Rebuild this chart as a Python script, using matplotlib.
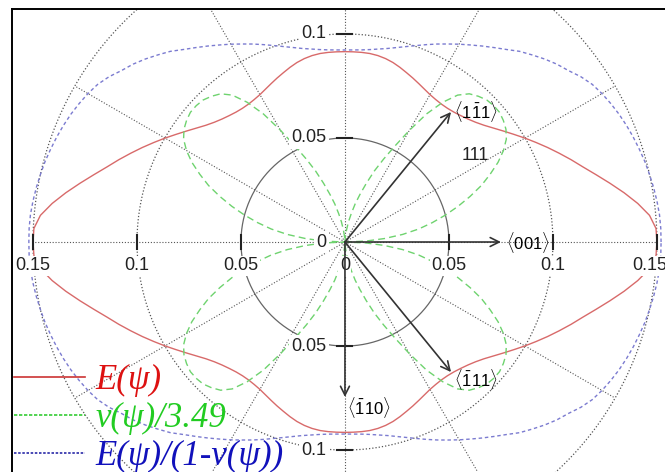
import numpy as np
import matplotlib.pyplot as plt
from matplotlib.lines import Line2D

plt.rcParams['font.family'] = ['Liberation Sans', 'DejaVu Sans']
plt.rcParams['mathtext.fontset'] = 'custom'
plt.rcParams['mathtext.rm'] = 'Liberation Sans'

# angle psi (deg) from <001>, first quadrant; the other quadrants are mirror images
psi = [0, 2.5, 5, 7.5, 10, 12.5, 15, 17.5, 20, 22.5, 25, 27.5, 30, 32.5, 35, 37.5, 40, 42.5,
       45, 47.5, 50, 52.5, 55, 57.5, 60, 62.5, 65, 67.5, 70, 72.5, 75, 77.5, 80, 82.5, 85,
       87.5, 90]
E_psi = [0.1500, 0.1497, 0.1470, 0.1420, 0.1363, 0.1305, 0.1250, 0.1200, 0.1157, 0.1115,
         0.1075, 0.1036, 0.0999, 0.0963, 0.0930, 0.0900, 0.0873, 0.0852, 0.0836, 0.0824,
         0.0815, 0.0810, 0.0809, 0.0812, 0.0818, 0.0828, 0.0840, 0.0853, 0.0866, 0.0880,
         0.0893, 0.0903, 0.0910, 0.0914, 0.0915, 0.0915, 0.0915]
nu_psi = [0.0, 0.010, 0.019, 0.028, 0.036, 0.043, 0.050, 0.057, 0.064, 0.071,
          0.077, 0.083, 0.088, 0.092, 0.0945, 0.096, 0.097, 0.097, 0.0965, 0.095,
          0.093, 0.089, 0.082, 0.073, 0.062, 0.052, 0.044, 0.037, 0.030, 0.024,
          0.019, 0.014, 0.010, 0.006, 0.003, 0.001, 0.0]
Eb_psi = [0.1520, 0.1520, 0.1518, 0.1513, 0.1507, 0.1500, 0.1493, 0.1484, 0.1475, 0.1465,
          0.1454, 0.1441, 0.1427, 0.1410, 0.1385, 0.1354, 0.1330, 0.1302, 0.1272, 0.1243,
          0.1208, 0.1178, 0.1150, 0.1123, 0.1098, 0.1073, 0.1050, 0.1027, 0.1005, 0.0985,
          0.0968, 0.0953, 0.0942, 0.0933, 0.0927, 0.0924, 0.0923]

labels = ['E(\u03c8)', '\u03bd(\u03c8)/3.49', 'E(\u03c8)/(1-\u03bd(\u03c8))']

xticks = [-0.15, -0.1, -0.05, 0, 0.05, 0.1, 0.15]
xticklabels = ['0.15', '0.1', '0.05', '0', '0.05', '0.1', '0.15']
yticks = [0.1, 0.05, 0, -0.05, -0.1]
yticklabels = ['0.1', '0.05', '0', '0.05', '0.1']


def full_circle(a, r):
    a = np.array(a, dtype=float)
    r = np.array(r, dtype=float)
    ang = np.concatenate([a, 180 - a[::-1][1:], 180 + a[1:], 360 - a[::-1][1:]])
    rr = np.concatenate([r, r[::-1][1:], r[1:], r[::-1][1:]])
    t = np.radians(ang)
    return rr * np.cos(t), rr * np.sin(t)


fig = plt.figure(figsize=(6.65, 4.72), dpi=100)
ax = fig.add_axes([12 / 665, -18 / 472, 668 / 665, 481 / 472])
ax.set_xlim(-0.1601, 0.1611)
ax.set_ylim(-0.1192, 0.1120)
ax.set_xticks([])
ax.set_yticks([])
for s in ax.spines.values():
    s.set_linewidth(1.4)

dot = (0, (1, 1.6))
gc = '#555555'
t = np.linspace(0, 2 * np.pi, 500)
ax.plot(0.05 * np.cos(t), 0.05 * np.sin(t), color='#666666', lw=0.9, zorder=1)
for r in [0.1, 0.15]:
    ax.plot(r * np.cos(t), r * np.sin(t), color=gc, lw=0.9, ls=dot, zorder=1)
for a in range(0, 360, 30):
    ax.plot([0, 0.15 * np.cos(np.radians(a))], [0, 0.15 * np.sin(np.radians(a))],
            color=gc, lw=0.8, ls=dot, zorder=1)

# curves
x, y = full_circle(psi, E_psi)
ax.plot(x, y, color='#d86a6a', lw=1.0, zorder=3)
x, y = full_circle(psi, nu_psi)
ax.plot(x, y, color='#6fd36f', lw=1.0, ls=(0, (5, 3)), zorder=3)
x, y = full_circle(psi, Eb_psi)
ax.plot(x, y, color='#7b7bd0', lw=1.0, ls=(0, (2.5, 2)), zorder=3)

# ticks and labels
h = 0.0032
for v, lab in zip(xticks, xticklabels):
    if v != 0:
        ax.plot([v, v], [-h, h], color='#222222', lw=1.5, zorder=4)
    xl = v - 0.0034 if v == 0.15 else v
    ax.text(xl, -0.0115, lab, ha='center', va='center', fontsize=13, color='#222222',
            bbox=dict(facecolor='white', edgecolor='none', pad=1), zorder=5)
for v, lab in zip(yticks, yticklabels):
    if v != 0:
        ax.plot([-0.004, 0.0035], [v, v], color='#222222', lw=1.5, zorder=4)
    ax.text(-0.0088, v, lab, ha='right', va='center', fontsize=13, color='#222222',
            bbox=dict(facecolor='white', edgecolor='none', pad=2), zorder=5)

# crystal directions
arrows = [(0.051, 0.0625), (0.075, 0.0), (0.051, -0.0625), (0.0, -0.0745)]
for tip in arrows:
    ax.annotate('', xy=tip, xytext=(0, 0),
                arrowprops=dict(arrowstyle='->', color='#333333', lw=1.2,
                                mutation_scale=16, shrinkA=0, shrinkB=0), zorder=6)
ax.text(0.0525, 0.0628, r'$\langle 1\bar{1}1\rangle$', fontsize=12, ha='left', va='center')
ax.text(0.0775, 0.0, r'$\langle 001\rangle$', fontsize=12, ha='left', va='center')
ax.text(0.0525, -0.0660, r'$\langle \bar{1}11\rangle$', fontsize=12, ha='left', va='center')
ax.text(0.0008, -0.0795, r'$\langle \bar{1}10\rangle$', fontsize=12, ha='left', va='center')
ax.text(0.0625, 0.0418, '111', fontsize=13, ha='center', va='center', color='#222222')

handles = [Line2D([], [], color='#cc3333', lw=1.2),
           Line2D([], [], color='#33cc33', lw=1.2, ls=(0, (2, 1))),
           Line2D([], [], color='#2a2aa8', lw=1.2, ls=(0, (1.5, 1)))]
leg = fig.legend(handles, labels, loc='upper left', bbox_to_anchor=(14 / 665, 1 - 364 / 472),
                 frameon=False, handlelength=2.05, handletextpad=0.3,
                 labelspacing=0.14, borderpad=0, borderaxespad=0,
                 prop={'family': 'Liberation Serif', 'style': 'italic', 'size': 25})
for txt, c in zip(leg.get_texts(), ['#dd1111', '#22cc22', '#1111bb']):
    txt.set_color(c)

fig.savefig('out.png', dpi=100)
